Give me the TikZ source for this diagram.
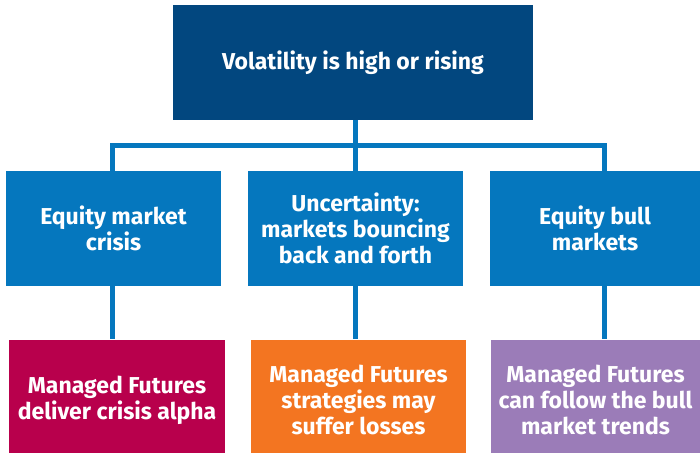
\documentclass[tikz,border=0pt]{standalone}
\usepackage{fontspec}
\setmainfont{Fira Sans}
\definecolor{topblue}{HTML}{02477F}
\definecolor{midblue}{HTML}{0577BE}
\definecolor{crimson}{HTML}{B8004C}
\definecolor{orng}{HTML}{F37521}
\definecolor{purp}{HTML}{9B7CB8}
\tikzset{
  box/.style={rectangle, inner sep=0pt, text=white, align=center,
    font=\fontsize{23}{26}\selectfont\bfseries},
  conn/.style={draw=midblue, line width=5pt, line join=miter, line cap=butt},
}
\begin{document}
\begin{tikzpicture}[x=1pt,y=-1pt]
\useasboundingbox (0,0) rectangle (700,452);
\node[box, fill=topblue, minimum width=360pt, minimum height=115pt] (top) at (353,62.5) {Volatility is high or rising};
\node[box, fill=midblue, minimum width=215pt, minimum height=115pt] (m1) at (113.5,228.5) {Equity market\\crisis};
\node[box, fill=midblue, minimum width=215pt, minimum height=115pt] (m2) at (355.5,228.5) {Uncertainty:\\markets bouncing\\back and forth};
\node[box, fill=midblue, minimum width=210pt, minimum height=115pt] (m3) at (595,228.5) {Equity bull\\markets};
\node[box, fill=crimson, minimum width=216pt, minimum height=121pt] (b1) at (117,400) {Managed Futures\\deliver crisis alpha};
\node[box, fill=orng, minimum width=215pt, minimum height=121pt] (b2) at (358.5,400) {Managed Futures\\strategies may\\suffer losses};
\node[box, fill=purp, minimum width=209pt, minimum height=121pt] (b3) at (595.5,400) {Managed Futures\\can follow the bull\\market trends};
\coordinate (bus) at (355.5,145);
\coordinate (c1) at (112.5,171);
\coordinate (c2) at (355.5,171);
\coordinate (c3) at (604,171);
\draw[conn] (top.south -| bus) -- (bus);
\draw[conn] (c1) |- (bus) -| (c3);
\draw[conn] (bus) -- (c2);
\draw[conn] (m1.south -| c1) -- (b1.north -| c1);
\draw[conn] (m2.south -| c2) -- (b2.north -| c2);
\draw[conn] (m3.south -| c3) -- (b3.north -| c3);
\end{tikzpicture}
\end{document}
